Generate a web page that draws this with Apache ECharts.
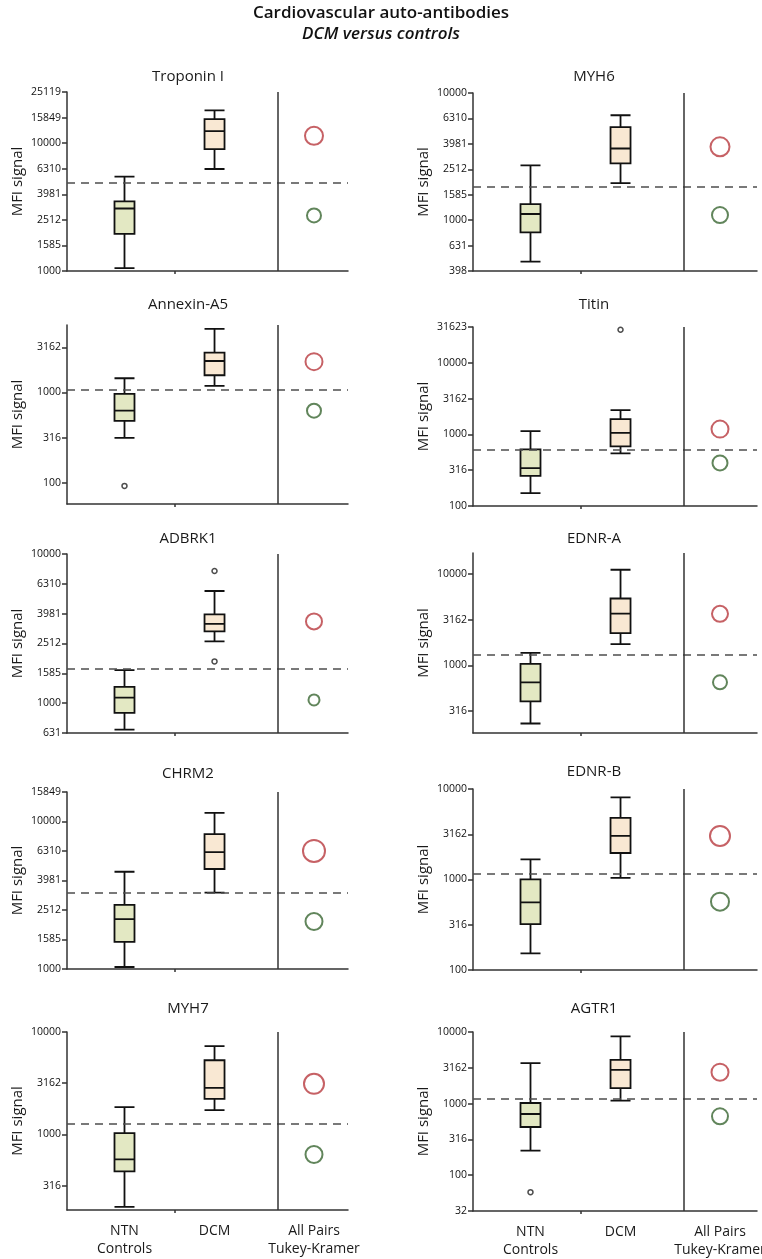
<!DOCTYPE html>
<html>
<head>
<meta charset="utf-8">
<script src="https://cdn.jsdelivr.net/npm/echarts@6/dist/echarts.min.js"></script>
<style>
html,body{margin:0;padding:0;background:#fff;}
#chart{width:762px;height:1259px;}
</style>
</head>
<body>
<div id="chart"></div>
<script>
// ---------- DATA (MFI signal values) ----------
const mainTitle = 'Cardiovascular auto-antibodies';
const subTitle = 'DCM versus controls';
const panels = ['Troponin I','MYH6','Annexin-A5','Titin','ADBRK1','EDNR-A','CHRM2','EDNR-B','MYH7','AGTR1'];
const groups = ['NTN\nControls', 'DCM', 'All Pairs\nTukey-Kramer'];

// box statistics: [min, Q1, median, Q3, max]
const ntnBox = [
  [1055, 1950, 3083, 3500, 5470],
  [472, 802, 1117, 1337, 2692],
  [313, 483, 628, 961, 1435],
  [151, 263, 337, 617, 1112],
  [665, 860, 1091, 1285, 1663],
  [230, 402, 650, 1036, 1368],
  [1032, 1528, 2177, 2719, 4565],
  [153, 322, 560, 1005, 1671],
  [196, 436, 571, 1030, 1845],
  [221, 471, 716, 1019, 3664]
];
const dcmBox = [
  [6280, 8970, 12410, 15420, 18030],
  [1955, 2792, 3659, 5383, 6683],
  [1181, 1549, 2230, 2754, 5047],
  [542, 679, 1052, 1637, 2188],
  [2594, 3027, 3404, 3938, 5650],
  [1702, 2250, 3690, 5395, 11150],
  [3294, 4764, 6205, 8200, 11430],
  [1040, 1963, 3027, 4786, 8090],
  [1730, 2227, 2850, 5300, 7265],
  [1101, 1640, 2965, 4090, 8710]
];
const ntnOutliers = [[], [], [92], [], [], [], [], [], [], [58]];
const dcmOutliers = [[], [], [], [28900], [7690, 1905], [], [], [], [], []];
const cutoff = [4907, 1820, 1064, 608, 1717, 1312, 3325, 1141, 1271, 1175];
const tukeyDcm = [11400, 3770, 2192, 1186, 3533, 3664, 6318, 3027, 3120, 2748];
const tukeyNtn = [2720, 1096, 628, 400, 1051, 650, 2098, 569, 638, 665];

// y axis tick labels and axis ranges (MFI)
const yTicks = [
  [1000,1585,2512,3981,6310,10000,15849,25119],
  [398,631,1000,1585,2512,3981,6310,10000],
  [100,316,1000,3162],
  [100,316,1000,3162,10000,31623],
  [631,1000,1585,2512,3981,6310,10000],
  [316,1000,3162,10000],
  [1000,1585,2512,3981,6310,10000,15849],
  [100,316,1000,3162,10000],
  [316,1000,3162,10000],
  [32,100,316,1000,3162,10000]
];
const yMinMax = [
  [1000,25119],[398,10000],[58,5585],[100,31623],[631,10000],
  [181,17020],[1000,15849],[100,10000],[183,10000],[31.62,10000]
];

// ---------- LAYOUT / STYLE ----------
const circleRed = [18,19,17,17,16,16,22,20,20,17];
const circleGreen = [14,16,14,15,11,14,17,18,17,16];
const gridTop = [92,93,325,327,554,553,792,789,1032,1032];
const gridBot = [271,271,504,506,733,733,969,970,1210,1211];
const titleY = [77,77,305,305,539,539,774,772,1009,1009];
const xPos = {ntn: 0.2046, dcm: 0.525, sep: 0.748, tukey: 0.879, tick: 0.384};
const FONT = '"Open Sans", "Noto Sans", sans-serif';
const L = v => Math.log10(v);

const option = {
  animation: false,
  backgroundColor: '#fff',
  grid: [], xAxis: [], yAxis: [], series: [],
  graphic: [
    {type:'text', left:'center', top:5, style:{text: mainTitle, font: '600 17px ' + FONT, fill:'#111'}},
    {type:'text', left:'center', top:26, style:{text: subTitle, font: 'italic 600 17px ' + FONT, fill:'#111'}}
  ]
};

panels.forEach((name, i) => {
  const col = i % 2;
  const gl = col ? 473 : 67;
  const gw = col ? 284 : 281;
  const bottomRow = i >= 8;
  option.grid.push({left: gl, width: gw, top: gridTop[i], height: gridBot[i] - gridTop[i],
    containLabel: false, outerBoundsMode: 'none'});
  option.graphic.push({type:'text', x: gl + 121, y: titleY[i],
    style:{text: name, font: '15px ' + FONT, fill:'#1a1a1a', align:'center', verticalAlign:'middle'}});

  const xLabelVals = [xPos.ntn, xPos.dcm, xPos.tukey];
  option.xAxis.push({
    type:'value', gridIndex:i, min:0, max: gw / 281,
    splitLine:{show:false},
    axisLine:{onZero:false, lineStyle:{color:'#333', width:1.5}},
    axisTick:{show:true, customValues:[xPos.tick], length:3, lineStyle:{color:'#333', width:1.5}},
    axisLabel:{show: bottomRow, customValues: xLabelVals, margin: 12, hideOverlap: false,
      fontFamily: FONT, fontSize: 14, color:'#1a1a1a', lineHeight: 18,
      formatter: v => {
        let best = 0, d = 1e9;
        xLabelVals.forEach((p, k) => { if (Math.abs(p - v) < d) { d = Math.abs(p - v); best = k; } });
        return groups[best];
      }}
  });
  const tv = yTicks[i].map(L);
  option.yAxis.push({
    type:'value', gridIndex:i, min: L(yMinMax[i][0]), max: L(yMinMax[i][1]),
    splitLine:{show:false},
    name:'MFI signal', nameLocation:'middle', nameGap: 42, nameRotate: 90,
    nameTextStyle:{fontFamily: FONT, fontSize: 15, color:'#1a1a1a'},
    axisLine:{onZero:false, lineStyle:{color:'#333', width:1.5}},
    axisTick:{show:true, customValues: tv, length:5, lineStyle:{color:'#333', width:1.5}},
    axisLabel:{customValues: tv, margin: 6, fontFamily: FONT, fontSize: 10.5, color:'#111',
      formatter: v => String(Math.round(Math.pow(10, v)))}
  });

  option.series.push({
    type:'boxplot', xAxisIndex:i, yAxisIndex:i, boxWidth:[20,20], silent:true,
    itemStyle:{borderColor:'#111', borderWidth:1.8},
    data:[
      {value:[xPos.ntn].concat(ntnBox[i].map(L)), itemStyle:{color:'#e3e8c3'}},
      {value:[xPos.dcm].concat(dcmBox[i].map(L)), itemStyle:{color:'#f9e8d3'}}
    ]
  });
  const outl = ntnOutliers[i].map(v => [xPos.ntn, L(v)]).concat(dcmOutliers[i].map(v => [xPos.dcm, L(v)]));
  option.series.push({
    type:'scatter', xAxisIndex:i, yAxisIndex:i, silent:true, symbol:'circle', symbolSize:5,
    itemStyle:{color:'#fff', borderColor:'#222', borderWidth:1.5}, data: outl
  });
  option.series.push({
    type:'scatter', xAxisIndex:i, yAxisIndex:i, silent:true, symbol:'circle',
    itemStyle:{color:'rgba(255,255,255,0)', borderWidth:2},
    data:[
      {value:[xPos.tukey, L(tukeyDcm[i])], symbolSize: circleRed[i], itemStyle:{borderColor:'#b8393f'}},
      {value:[xPos.tukey, L(tukeyNtn[i])], symbolSize: circleGreen[i], itemStyle:{borderColor:'#3a6632'}}
    ],
    markLine:{silent:true, symbol:'none', label:{show:false},
      data:[
        {yAxis: L(cutoff[i]), lineStyle:{type:[8,6], color:'#4d4d4d', width:1.5}},
        {xAxis: xPos.sep, lineStyle:{type:'solid', color:'#333', width:1.5}}
      ]}
  });
});

const chart = echarts.init(document.getElementById('chart'), null, {renderer:'canvas'});
chart.setOption(option);
</script>
</body>
</html>
